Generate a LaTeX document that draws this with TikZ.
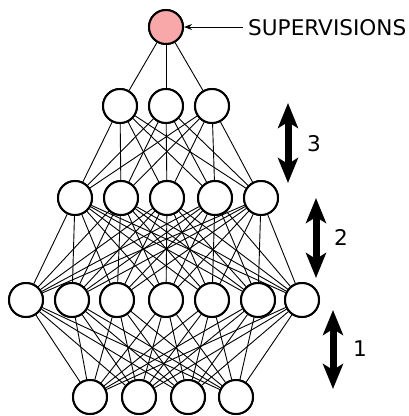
\documentclass[tikz,border=0pt]{standalone}
\usepackage{fontspec}
\setmainfont{DejaVu Sans}
\usetikzlibrary{arrows.meta}
\definecolor{suppink}{HTML}{F9A8AA}
\tikzset{
  neuron/.style={circle, draw=black, line width=2bp, fill=white, minimum size=34bp, inner sep=0pt},
  outneuron/.style={neuron, fill=suppink},
  link/.style={line width=0.9bp, black},
  layerarrow/.style={line width=7bp, {Stealth[length=25bp,width=20bp,inset=6bp]}-{Stealth[length=25bp,width=20bp,inset=6bp]}},
  lbl/.style={font=\fontsize{21.6bp}{26bp}\selectfont, inner sep=0pt}
}
\begin{document}
\begin{tikzpicture}[x=1bp,y=-1bp]
\useasboundingbox (0,0) rectangle (409,416);

% neurons
\node[outneuron] (o) at (166,27) {};
\foreach \x [count=\i] in {120,166,212} \node[neuron] (a\i) at (\x,106) {};
\foreach \x [count=\i] in {75,121,167,215,261} \node[neuron] (b\i) at (\x,198) {};
\foreach \x [count=\i] in {26,72,117,166,212,258,302} \node[neuron] (c\i) at (\x,300) {};
\foreach \x [count=\i] in {90,139,188,236} \node[neuron] (d\i) at (\x,397) {};

% full connections between neighbouring layers
\foreach \i in {1,...,3} \draw[link] (o) -- (a\i);
\foreach \i in {1,...,3} \foreach \j in {1,...,5} \draw[link] (a\i) -- (b\j);
\foreach \i in {1,...,5} \foreach \j in {1,...,7} \draw[link] (b\i) -- (c\j);
\foreach \i in {1,...,7} \foreach \j in {1,...,4} \draw[link] (c\i) -- (d\j);

% redraw neurons on top
\node[outneuron] at (o) {};
\foreach \i in {1,...,3} \node[neuron] at (a\i) {};
\foreach \i in {1,...,5} \node[neuron] at (b\i) {};
\foreach \i in {1,...,7} \node[neuron] at (c\i) {};
\foreach \i in {1,...,4} \node[neuron] at (d\i) {};

% supervision label
\node[lbl, anchor=west] (sup) at (248,28) {SUPERVISIONS};
\coordinate (supstart) at (243,27);
\draw[line width=1bp, -{Stealth[length=8bp,width=6bp]}] (supstart) -- (o.east);

% stage arrows and numbers
\coordinate (s3t) at (288,103); \coordinate (s3b) at (288,183);
\coordinate (s2t) at (316,198); \coordinate (s2b) at (316,278);
\coordinate (s1t) at (333,310); \coordinate (s1b) at (333,389);
\draw[layerarrow] (s3t) -- (s3b);
\draw[layerarrow] (s2t) -- (s2b);
\draw[layerarrow] (s1t) -- (s1b);
\node[lbl] (n3) at (314,144) {3};
\node[lbl] (n2) at (341,237) {2};
\node[lbl] (n1) at (360,349) {1};
\end{tikzpicture}
\end{document}
